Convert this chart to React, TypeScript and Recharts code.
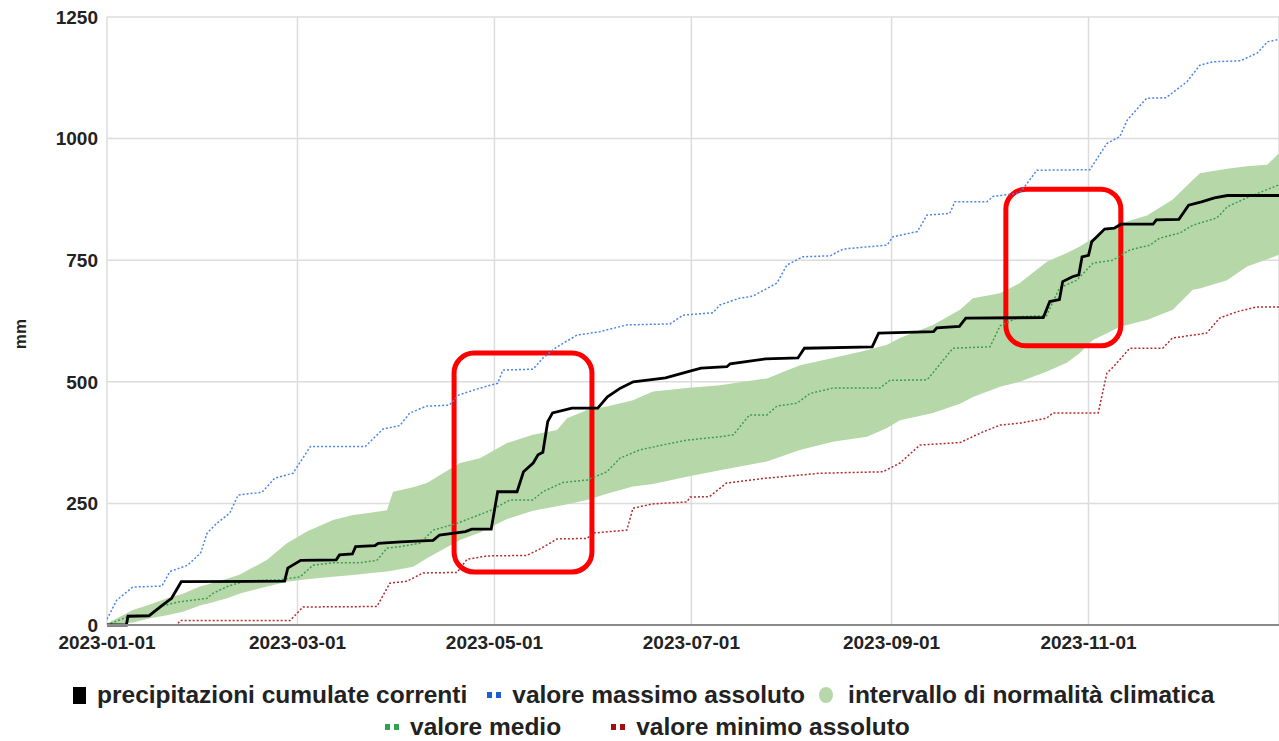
import { ComposedChart, Line, Area, XAxis, YAxis, CartesianGrid, ReferenceArea, Label } from "recharts"

const FONT = '"Liberation Sans", Arial, Helvetica, sans-serif'

// x = day of year (0 = 2023-01-01), y = mm
const tickDays = [0, 59, 120, 181, 243, 304]
const tickLabels = ["2023-01-01", "2023-03-01", "2023-05-01", "2023-07-01", "2023-09-01", "2023-11-01"]
const yTicks = [0, 250, 500, 750, 1000, 1250]

const currentPts: [number, number][] = [
  [0, 0], [6, 0], [6.5, 18], [13, 19], [17, 40], [20, 55], [23, 89], [55, 90], [56, 117], [60, 133],
  [71, 134], [72, 144], [76, 146], [77, 161], [83, 163], [84, 168], [91, 171], [101, 174], [103, 185],
  [111, 192], [113, 197], [119, 197], [121, 274], [127, 274], [129, 315], [132, 333], [133.5, 350],
  [135, 355], [136.5, 418], [138, 436], [144, 446], [152, 446], [155, 469], [159, 487], [163, 500],
  [173, 508], [180, 521], [184, 528], [192, 531], [193, 537], [204, 547], [214, 549], [216, 569],
  [237, 572], [239, 600], [256, 603], [257, 611], [264, 614], [266, 631], [290, 632], [292, 665],
  [295, 669], [296, 706], [299, 716], [301, 720], [302, 757], [304, 760], [305, 788], [309, 814],
  [312, 816], [314, 824], [324, 824], [325, 833], [332, 834], [335, 863], [339, 870], [343, 878],
  [347, 883], [363, 883],
]

const maxPts: [number, number][] = [
  [0, 12], [3, 51], [8, 78], [17, 80], [19.5, 110], [25, 123], [29, 148], [31, 189], [34, 209], [38, 230],
  [40.6, 267], [48, 273], [52, 302], [57.6, 312], [63, 367], [80, 367], [85.5, 403], [90.7, 410],
  [93.8, 436], [99, 450], [106, 452], [109, 473], [115.5, 487], [121, 497], [122.6, 524], [132, 526],
  [135, 549], [139.4, 572], [145.6, 596], [152.7, 603], [161, 617], [174.4, 619], [178.4, 637],
  [187.7, 642], [189.8, 658], [196, 672], [200, 676], [207.5, 703], [210.6, 740], [215.5, 757],
  [224, 759], [228, 773], [241.6, 781], [243.4, 798], [251, 809], [254, 843], [261, 846], [262.6, 870],
  [272.5, 870], [274.4, 881], [282.7, 888], [285, 908], [288, 935], [304.4, 936], [309.7, 990],
  [313.7, 1004], [316, 1038], [322, 1083], [328, 1084], [334.5, 1117], [338.5, 1151], [342.6, 1158],
  [351, 1160], [356.3, 1176], [359.4, 1199], [363, 1204],
]

const minPts: [number, number][] = [
  [0, 0], [21.7, 0], [22.6, 9], [56.7, 9], [60.7, 37], [83.6, 38], [87.6, 86], [92.9, 90], [97.9, 107],
  [108.4, 108], [111.5, 135], [117.7, 142], [130, 143], [134, 156], [139.4, 177], [148.7, 178],
  [150.5, 189], [161, 195], [162.9, 240], [169, 249], [179.6, 253], [180.6, 263], [186.6, 264],
  [191.9, 292], [204.4, 302], [220.8, 312], [240.3, 315], [245.6, 333], [251.8, 370], [264.2, 375],
  [271.3, 397], [276.6, 411], [282.7, 415], [291, 425], [293, 436], [307, 436], [309.7, 518],
  [311.6, 530], [316.8, 569], [327, 569], [330, 590], [340.6, 600], [344.6, 631], [350, 644],
  [356, 654], [363, 654],
]

const meanPts: [number, number][] = [
  [0, 0], [6, 16], [13, 21], [16.4, 38], [22.6, 48], [31, 55], [32.8, 65], [37.2, 79], [42, 89],
  [47.4, 92], [53.6, 93], [59.8, 99], [63.8, 123], [70, 128], [78.4, 128], [83.6, 133], [86.7, 158],
  [90.7, 161], [96.9, 168], [101, 195], [108.4, 209], [118.6, 235], [124.8, 257], [131.9, 257],
  [135, 274], [141.2, 293], [148.7, 298], [154.8, 315], [158.9, 343], [165, 360], [172, 370],
  [179.6, 380], [189.8, 387], [194, 391], [199, 432], [204.4, 432], [207.5, 450], [213.7, 456],
  [217.7, 476], [224.8, 487], [239.4, 487], [242.5, 503], [254, 504], [257, 528], [262, 569],
  [273.5, 572], [276.6, 615], [282.7, 634], [291, 636], [295, 693], [300.4, 709], [305.4, 744],
  [311.6, 750], [316.8, 771], [323, 781], [326, 795], [332.3, 806], [336.3, 822], [343.8, 837],
  [347, 860], [354, 881], [363, 905],
]

// [day, lower, upper] of the climate normal range
const bandPts: [number, number, number][] = [
  [0, 0, 3], [8, 5, 31], [13.3, 14, 42], [18.6, 20, 55], [23.5, 27, 64], [28.8, 40, 79], [31.9, 45, 85],
  [37.2, 55, 95], [41.2, 65, 104], [49.6, 79, 134], [55.7, 89, 168], [61.9, 94, 192], [70, 99, 216],
  [76.2, 103, 226], [80.5, 106, 230], [86.7, 110, 236], [88.6, 112, 274], [94.8, 120, 283],
  [99.1, 137, 292], [109.3, 175, 333], [115.5, 190, 343], [123.9, 218, 374], [131.9, 235, 391],
  [139.4, 244, 401], [142.5, 248, 425], [148.7, 257, 442], [154.8, 270, 449], [162.9, 285, 462],
  [169.1, 290, 480], [179.6, 305, 487], [189.8, 318, 493], [204.4, 336, 507], [214.6, 360, 534],
  [224.8, 377, 549], [235.4, 387, 565], [241.6, 405, 576], [245.6, 421, 590], [255.8, 436, 617],
  [264.2, 455, 648], [268.2, 469, 672], [276.6, 490, 682], [282.7, 500, 703], [291.1, 521, 747],
  [297.3, 539, 765], [301.3, 559, 778], [305.4, 586, 795], [309.7, 600, 812], [313.7, 613, 825],
  [322.1, 627, 842], [330.1, 648, 875], [336.3, 689, 915], [338.5, 692, 929], [346.9, 709, 938],
  [353.1, 737, 943], [359.3, 752, 946], [363, 761, 970],
]

// highlighted periods: [day1, day2, mm1, mm2]
const highlights: [number, number, number, number][] = [
  [107.5, 150.2, 109, 559],
  [278.4, 314, 574, 896],
]

const toRows = (pts: [number, number][]) => pts.map(([d, v]) => ({ d, v }))
const bandRows = bandPts.map(([d, lo, hi]) => ({ d, band: [lo, hi] }))

const fmtTick = (d: number) => {
  const i = tickDays.indexOf(d)
  return i >= 0 ? tickLabels[i] : ""
}

const RoundRect = (p: any) => (
  <rect x={p.x} y={p.y} width={p.width} height={p.height} rx={20} ry={20} fill="none" stroke="#ff0000" strokeWidth={5} />
)

const legendText: React.CSSProperties = { fontSize: 24.5, fontWeight: 700, color: "#222", whiteSpace: "nowrap" }

const Dots = ({ color }: { color: string }) => (
  <span style={{ display: "inline-flex", gap: 4, marginRight: 11 }}>
    <span style={{ width: 5, height: 6, background: color }} />
    <span style={{ width: 5, height: 6, background: color }} />
  </span>
)

export default function App() {
  return (
    <div style={{ position: "absolute", left: 0, top: 0, width: 1279, height: 741, background: "#fff", fontFamily: FONT, overflow: "hidden" }}>
      <ComposedChart width={1279} height={660} margin={{ top: 17, right: 0, bottom: 5, left: 0 }}>
        <CartesianGrid stroke="#dcdcdc" strokeWidth={1.5} />
        <XAxis
          type="number"
          dataKey="d"
          domain={[0, 363]}
          ticks={tickDays}
          tickFormatter={fmtTick}
          height={30}
          tickLine={false}
          tickSize={0}
          tickMargin={11}
          axisLine={{ stroke: "#8a8a8a", strokeWidth: 2 }}
          tick={{ fill: "#222", fontSize: 19, fontWeight: 700, fontFamily: FONT }}
          allowDataOverflow
        />
        <YAxis
          type="number"
          domain={[0, 1250]}
          ticks={yTicks}
          width={107}
          tickLine={false}
          tickSize={0}
          tickMargin={9}
          axisLine={false}
          tick={{ fill: "#222", fontSize: 19, fontWeight: 700, fontFamily: FONT }}
        >
          <Label
            content={() => (
              <text x={20} y={334} transform="rotate(-90 20 334)" textAnchor="middle" dominantBaseline="central" fontSize={17} fontWeight={700} fill="#222" fontFamily={FONT}>
                mm
              </text>
            )}
          />
        </YAxis>
        <Area data={bandRows} dataKey="band" type="linear" stroke="none" fill="#b6d7a8" fillOpacity={1} isAnimationActive={false} />
        <Line data={toRows(meanPts)} dataKey="v" type="linear" stroke="#3c9f4f" strokeWidth={1.5} strokeDasharray="2 2" dot={false} isAnimationActive={false} />
        <Line data={toRows(minPts)} dataKey="v" type="linear" stroke="#b52a2a" strokeWidth={1.5} strokeDasharray="2 2" dot={false} isAnimationActive={false} />
        <Line data={toRows(maxPts)} dataKey="v" type="linear" stroke="#4a86e8" strokeWidth={1.5} strokeDasharray="2 2" dot={false} isAnimationActive={false} />
        <Line data={toRows(currentPts)} dataKey="v" type="linear" stroke="#000" strokeWidth={2.8} dot={false} isAnimationActive={false} />
        {highlights.map(([x1, x2, y1, y2], i) => (
          <ReferenceArea key={i} x1={x1} x2={x2} y1={y1} y2={y2} shape={RoundRect} ifOverflow="visible" />
        ))}
      </ComposedChart>
      <div style={{ position: "absolute", top: 680, left: 73, display: "flex", alignItems: "center", height: 30 }}>
        <span style={{ width: 13, height: 17, background: "#000", marginRight: 11 }} />
        <span style={{ ...legendText, marginRight: 20 }}>precipitazioni cumulate correnti</span>
        <Dots color="#1a5fd6" />
        <span style={{ ...legendText, marginRight: 14 }}>valore massimo assoluto</span>
        <span style={{ width: 14, height: 16, borderRadius: "50%", background: "#b6d7a8", marginRight: 15 }} />
        <span style={legendText}>intervallo di normalità climatica</span>
      </div>
      <div style={{ position: "absolute", top: 712, left: 385, display: "flex", alignItems: "center", height: 30 }}>
        <Dots color="#2ea44f" />
        <span style={{ ...legendText, marginRight: 50 }}>valore medio</span>
        <Dots color="#a30f0f" />
        <span style={legendText}>valore minimo assoluto</span>
      </div>
    </div>
  )
}
